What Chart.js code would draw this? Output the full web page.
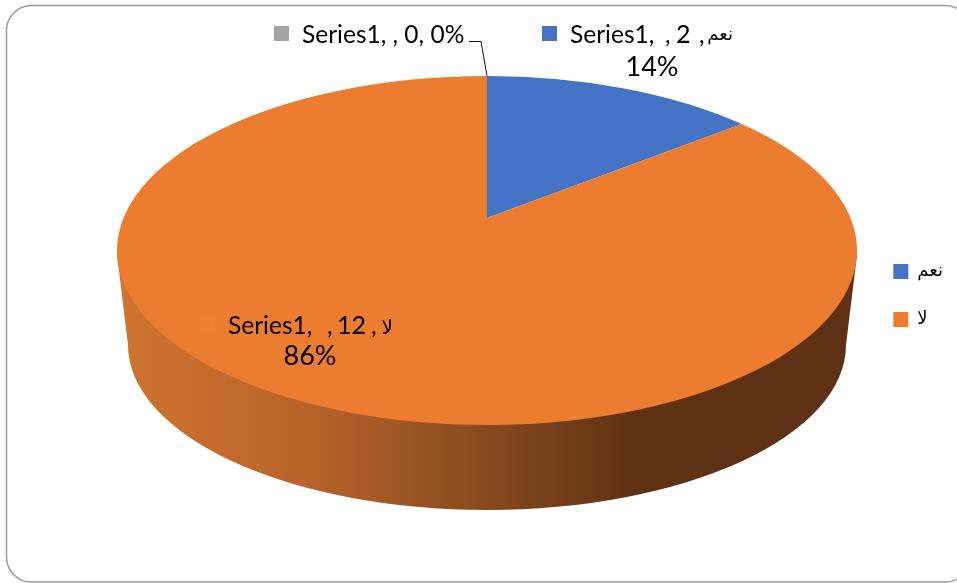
<!DOCTYPE html>
<html><head><meta charset="utf-8">
<style>html,body{margin:0;padding:0;background:#fff;overflow:hidden}canvas{display:block}</style>
<script src="https://cdn.jsdelivr.net/npm/chart.js@4"></script>
</head><body><canvas id="c" width="957" height="583"></canvas>
<script>
const categories = ['نعم', 'لا', ''];
const values = [2, 12, 0];
const seriesName = 'Series1';
const colors = ['#4472C4', '#EB7C30', '#A5A5A5'];

const total = values.reduce((a, b) => a + b, 0);
const pct = v => Math.round(v / total * 100) + '%';
const E = {cx: 487, cy: 250.5, a: 370, b: 174.5, t: -0.186};
const LOW = {cx: 487, cy: 345, a: 359, b: 165};
const FONT = "Lato, 'DejaVu Sans', sans-serif";
const AR = "'DejaVu Sans', sans-serif";

function project(ang) {
  const x = Math.cos(ang), y = Math.sin(ang), t = E.t, d = 1 + t * y;
  return [x * Math.sqrt(1 - t * t) / d, (y + t) / d];
}
const pie3d = {
  id: 'pie3d',
  beforeDatasetsDraw(chart) {
    const ctx = chart.ctx, arcs = chart.getDatasetMeta(0).data;
    ctx.save();
    const grad = ctx.createLinearGradient(117, 0, 857, 0);
    [[0, '#cf7530'], [0.25, '#b9632a'], [0.5, '#864a1f'], [0.7, '#5f3214'], [1, '#5e3113']]
      .forEach(s => grad.addColorStop(s[0], s[1]));
    ctx.beginPath();
    ctx.moveTo(E.cx - E.a, E.cy + 4);
    ctx.lineTo(LOW.cx - LOW.a, LOW.cy);
    ctx.ellipse(LOW.cx, LOW.cy, LOW.a, LOW.b, 0, Math.PI, 0, true);
    ctx.lineTo(E.cx + E.a, E.cy + 4);
    ctx.closePath();
    ctx.fillStyle = grad;
    ctx.fill();
    arcs.forEach((arc, i) => {
      if (values[i] <= 0) return;
      const p = arc.getProps(['startAngle', 'endAngle']);
      const s = project(p.startAngle), e = project(p.endAngle);
      ctx.beginPath();
      ctx.moveTo(E.cx, E.cy + E.t * E.b);
      ctx.ellipse(E.cx, E.cy, E.a, E.b, 0, Math.atan2(s[1], s[0]), Math.atan2(e[1], e[0]), false);
      ctx.closePath();
      ctx.fillStyle = colors[i];
      ctx.fill();
    });
    ctx.restore();
    return false;
  },
  afterDraw(chart) {
    const ctx = chart.ctx;
    ctx.save();
    ctx.textBaseline = 'alphabetic';
    const txt = (s, x, y, font, align) => {
      ctx.font = font; ctx.textAlign = align || 'left'; ctx.fillStyle = '#000'; ctx.fillText(s, x, y);
    };
    const f = '24.5px ' + FONT, num = '25px ' + FONT, big = '27px ' + FONT;
    // border of the card
    ctx.beginPath();
    ctx.roundRect(6.5, 5.5, 964, 576.5, 25);
    ctx.strokeStyle = '#9a9a9a'; ctx.lineWidth = 1.5; ctx.stroke();
    // grey zero label + leader
    ctx.fillStyle = colors[2]; ctx.fillRect(274, 26, 15, 15);
    txt(seriesName + ', ' + categories[2] + ', ' + values[2] + ', ' + pct(values[2]), 302, 43, f);
    ctx.beginPath(); ctx.moveTo(469, 41.5); ctx.lineTo(481, 41.5); ctx.lineTo(487, 76);
    ctx.strokeStyle = '#111'; ctx.lineWidth = 1; ctx.stroke();
    // blue label
    ctx.fillStyle = colors[0]; ctx.fillRect(542, 26, 15, 15);
    txt(seriesName + ',', 570, 43, f);
    txt(',', 665, 43, f);
    txt(String(values[0]), 676, 43, num);
    txt(',', 699, 43, f);
    txt(categories[0], 733, 40, '18px ' + AR, 'right');
    txt(pct(values[0]), 652, 76, big, 'center');
    // orange label
    ctx.fillStyle = '#EE7E32'; ctx.fillRect(200, 316, 15, 16);
    txt(seriesName + ',', 228, 334, f);
    txt(',', 327, 334, f);
    txt(String(values[1]), 337, 334, num);
    txt(',', 371, 334, f);
    txt(categories[1], 393, 334, '20px ' + AR, 'right');
    txt(pct(values[1]), 310, 365, big, 'center');
    ctx.restore();
  }
};

new Chart(document.getElementById('c'), {
  type: 'pie',
  data: {labels: categories, datasets: [{label: seriesName, data: values, backgroundColor: colors, borderWidth: 0}]},
  plugins: [pie3d],
  options: {
    responsive: false,
    animation: false,
    layout: {padding: {right: 4, top: 8}},
    plugins: {
      tooltip: {enabled: false},
      legend: {
        position: 'right',
        labels: {
          filter: item => item.text !== '',
          boxWidth: 15, boxHeight: 15, padding: 30, color: '#000',
          font: {size: 18, family: AR}
        }
      }
    }
  }
});
</script></body></html>
